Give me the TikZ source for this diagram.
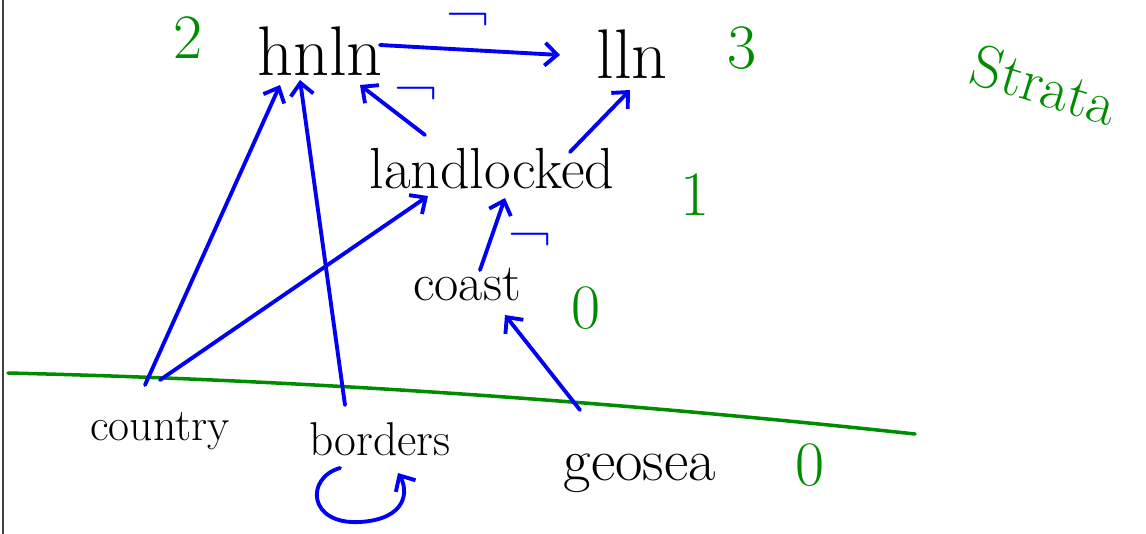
\documentclass[tikz,border=0pt]{standalone}
\usetikzlibrary{arrows.meta}
\definecolor{penblue}{RGB}{0,0,245}
\definecolor{pengreen}{RGB}{0,140,0}
\tikzset{
  word/.style={text=black, inner sep=0pt, anchor=base, font=\fontsize{#1}{#1}\selectfont},
  word/.default=30,
  level/.style={text=pengreen, inner sep=0pt, font=\fontsize{36}{36}\selectfont},
  link/.style={draw=penblue, line width=2.2pt, line cap=round,
    -{Straight Barb[length=7pt,width=13pt,line width=2.2pt]}},
  neg/.style={text=penblue, inner sep=0pt, font=\fontsize{34}{34}\selectfont},
  stratum/.style={draw=pengreen, line width=2pt, line cap=round},
}
\begin{document}
\begin{tikzpicture}[x=0.02cm, y=-0.02cm]
  \useasboundingbox (0,0) rectangle (1146,534);
  % left margin rule
  \draw[line width=1.4pt, black!75] (3,0) -- (3,534);

  % predicates
  \node[word=40] (hnln) at (320,75) {hnln};
  \node[word=40] (lln) at (632,78) {lln};
  \node[word=33] (landlocked) at (492,188) {landlocked};
  \node[word=30] (coast) at (467,300) {coast};
  \node[word=26] (country) at (160,440) {country};
  \node[word=27] (borders) at (380,455) {borders};
  \node[word=34] (geosea) at (640,480) {geosea};

  % strata numbers
  \node[level] (s2) at (188,38) {2};
  \node[level] (s3) at (742,48) {3};
  \node[level] (s1) at (695,195) {1};
  \node[level] (s0a) at (586,308) {0};
  \node[level] (s0b) at (810,465) {0};
  \node[level, rotate=-17, font=\fontsize{34}{34}\selectfont] (strata) at (1045,85) {Strata};

  % boundary of the extensional part
  \draw[stratum] (8,373) .. controls (300,380) and (600,400) .. (915,434);

  % dependencies
  \draw[link] ([shift={(60,-30)}]hnln.base) -- ([shift={(-72,-23)}]lln.base);
  \draw[link] ([shift={(-15,-55)}]country.base) -- ([shift={(-40,10)}]hnln.base);
  \draw[link] ([shift={(0,-60)}]country.base) -- ([shift={(-64,8)}]landlocked.base);
  \draw[link] ([shift={(-35,-50)}]borders.base) -- ([shift={(-20,5)}]hnln.base);
  \draw[link] ([shift={(-67,-53)}]landlocked.base) -- ([shift={(40,10)}]hnln.base);
  \draw[link] ([shift={(78,-36)}]landlocked.base) -- ([shift={(-2,12)}]lln.base);
  \draw[link] ([shift={(13,-30)}]coast.base) -- ([shift={(13,10)}]landlocked.base);
  \draw[link] ([shift={(-60,-70)}]geosea.base) -- ([shift={(38,15)}]coast.base);
  \draw[link] ([shift={(-40,13)}]borders.base)
      .. controls (305,478) and (308,525) .. (360,522)
      .. controls (408,519) and (408,490) .. ([shift={(18,18)}]borders.base);

  % negated edges
  \node[neg] (n1) at (468,24) {¬};
  \node[neg] (n2) at (416,98) {¬};
  \node[neg] (n3) at (530,244) {¬};
\end{tikzpicture}
\end{document}
